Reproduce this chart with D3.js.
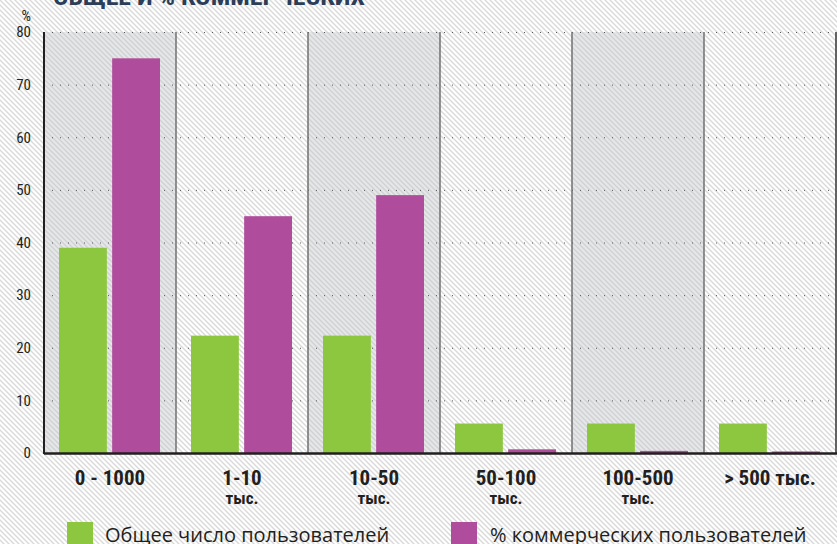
<!DOCTYPE html>
<html><head><meta charset="utf-8">
<script src="https://cdn.jsdelivr.net/npm/d3@7"></script>
<style>
html,body{margin:0;padding:0;background:#fff;}
svg{display:block;}
</style></head>
<body>
<script>
const categories = ["0 - 1000", "1-10 тыс.", "10-50 тыс.", "50-100 тыс.", "100-500 тыс.", "> 500 тыс."];
const catLines = [["0 - 1000"], ["1-10", "тыс."], ["10-50", "тыс."], ["50-100", "тыс."], ["100-500", "тыс."], ["> 500 тыс."]];
const seriesNames = ["Общее число пользователей", "% коммерческих пользователей"];
const totalUsers = [39, 22.3, 22.3, 5.6, 5.6, 5.6];
const commercialUsers = [75, 45, 49, 0.7, 0.4, 0.3];
const yTicks = [0, 10, 20, 30, 40, 50, 60, 70, 80];
const title = "ОБЩЕЕ И % КОММЕРЧЕСКИХ";
const colors = ["#8dc63f", "#b04c9c"];

const W = 837, H = 544;
const m = {left: 44, right: 1, top: 32, bottom: 91};
const svg = d3.select("body").append("svg").attr("width", W).attr("height", H);
const defs = svg.append("defs");

function hatch(id, bg, fg) {
  const p = defs.append("pattern").attr("id", id).attr("patternUnits", "userSpaceOnUse")
    .attr("width", 5).attr("height", 5);
  p.append("rect").attr("width", 5).attr("height", 5).attr("fill", bg);
  p.append("path").attr("d", "M-1,-1L6,6M-1,4L1,6M4,-1L6,1").attr("stroke", fg).attr("stroke-width", 1.4);
}
hatch("bgHatch", "#ffffff", "#d9d9d9");
hatch("bandHatch", "#e6e7e9", "#d0d1d3");

svg.append("rect").attr("width", W).attr("height", H).attr("fill", "url(#bgHatch)");

const x0 = d3.scaleBand().domain(categories).range([m.left, W - m.right]).padding(0);
const x1 = d3.scaleBand().domain(seriesNames).range([15, 116]).paddingInner(0.1);
const y = d3.scaleLinear().domain([0, 80]).range([H - m.bottom, m.top]);

// shaded bands
svg.append("g").selectAll("rect").data(categories.filter((d, i) => i % 2 === 0)).join("rect")
  .attr("x", d => x0(d)).attr("y", y(80)).attr("width", x0.bandwidth()).attr("height", y(0) - y(80))
  .attr("fill", "url(#bandHatch)");

// dotted gridlines
svg.append("g").selectAll("line").data(yTicks.filter(d => d > 0)).join("line")
  .attr("x1", m.left).attr("x2", W - m.right).attr("y1", d => y(d) + 0.5).attr("y2", d => y(d) + 0.5)
  .attr("stroke", "#555").attr("stroke-width", 1).attr("stroke-dasharray", "1,7");

// separators
svg.append("g").selectAll("line").data(categories.slice(1)).join("line")
  .attr("x1", d => x0(d)).attr("x2", d => x0(d)).attr("y1", y(80)).attr("y2", y(0))
  .attr("stroke", "#707070").attr("stroke-width", 1.5);
svg.append("line").attr("x1", W - 1).attr("x2", W - 1).attr("y1", y(80)).attr("y2", y(0))
  .attr("stroke", "#333").attr("stroke-width", 1.5);

// bars
const data = categories.map((c, i) => ({c, vals: [totalUsers[i], commercialUsers[i]]}));
const g = svg.append("g").selectAll("g").data(data).join("g").attr("transform", d => `translate(${x0(d.c)},0)`);
g.selectAll("rect").data(d => d.vals.map((v, j) => ({s: seriesNames[j], v, j}))).join("rect")
  .attr("x", d => x1(d.s)).attr("width", x1.bandwidth())
  .attr("y", d => y(d.v)).attr("height", d => y(0) - y(d.v))
  .attr("fill", d => colors[d.j]);

// axes lines
svg.append("line").attr("x1", m.left).attr("x2", m.left).attr("y1", y(80)).attr("y2", y(0) + 1)
  .attr("stroke", "#231f20").attr("stroke-width", 2);
svg.append("line").attr("x1", m.left).attr("x2", W).attr("y1", y(0) + 0.5).attr("y2", y(0) + 0.5)
  .attr("stroke", "#231f20").attr("stroke-width", 2.5);

const condensed = "'Roboto Condensed', 'Liberation Sans Narrow', 'Open Sans', sans-serif";

// y axis labels
const yAxis = d3.axisLeft(y).tickValues(yTicks).tickSize(0).tickPadding(13);
const ya = svg.append("g").attr("transform", `translate(${m.left},0)`).call(yAxis);
ya.select(".domain").remove();
ya.selectAll("text").attr("font-family", condensed)
  .attr("font-size", 15).attr("fill", "#231f20");
svg.append("text").attr("x", 31).attr("y", 21).attr("text-anchor", "end")
  .attr("font-family", condensed).attr("font-size", 15).attr("fill", "#231f20").text("%");

// category labels (two lines as separate texts)
const cg = svg.append("g").selectAll("g").data(categories).join("g")
  .attr("transform", d => `translate(${x0(d) + x0.bandwidth() / 2},0)`);
cg.each(function(d, i) {
  const t = d3.select(this);
  catLines[i].forEach((ln, k) => {
    t.append("text").attr("x", 0).attr("y", k === 0 ? 485 : 504)
      .attr("text-anchor", "middle").attr("font-family", condensed)
      .attr("font-weight", "bold").attr("font-size", k === 0 ? 21 : 17)
      .attr("fill", "#231f20").text(ln);
  });
});

// title (cut off at the top as in the reference)
svg.append("text").attr("x", 53).attr("y", 5).attr("font-family", condensed)
  .attr("font-weight", "bold").attr("font-size", 23).attr("fill", "#2b3d57")
  .attr("textLength", 312).attr("lengthAdjust", "spacingAndGlyphs").text(title);

// legend
const legX = [67, 451];
const lg = svg.append("g").selectAll("g").data(seriesNames).join("g")
  .attr("transform", (d, i) => `translate(${legX[i]},522)`);
lg.append("rect").attr("width", 26).attr("height", 24).attr("fill", (d, i) => colors[i]);
lg.append("text").attr("x", (d, i) => i === 0 ? 38 : 39).attr("y", 20)
  .attr("font-family", "'Open Sans', 'Noto Sans', sans-serif").attr("font-size", 20)
  .attr("fill", "#231f20").text(d => d);
</script>
</body></html>
